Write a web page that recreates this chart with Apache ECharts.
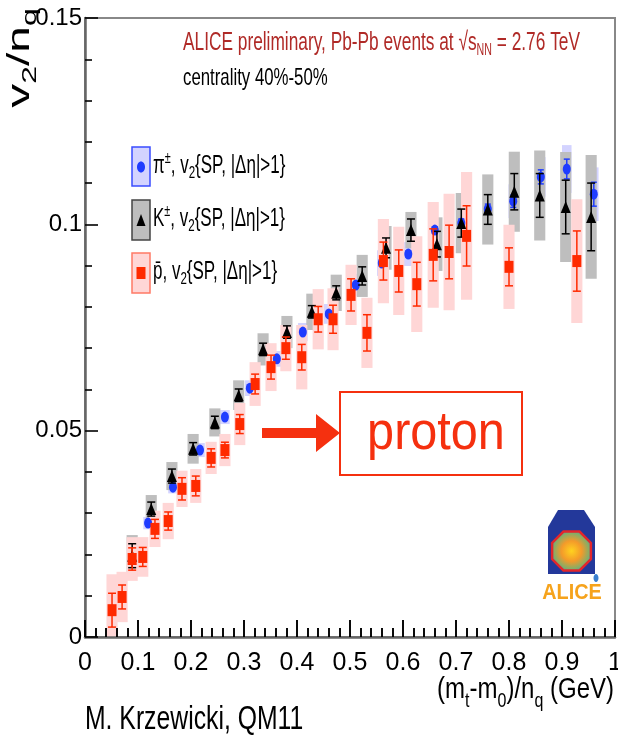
<!DOCTYPE html>
<html>
<head>
<meta charset="utf-8">
<script src="https://cdn.jsdelivr.net/npm/echarts@6/dist/echarts.min.js"></script>
<style>
  html, body { margin: 0; padding: 0; background: #fff; }
  #chart { width: 618px; height: 738px; }
</style>
</head>
<body>
<div id="chart"></div>
<script>
// v2/nq vs (mT-m0)/nq, 40-50%
const piX = [0.119, 0.166, 0.217, 0.264, 0.311, 0.362, 0.411, 0.460, 0.511, 0.560, 0.610, 0.660, 0.710, 0.760, 0.808, 0.860, 0.909, 0.960]
const piV2 = [0.0276, 0.0363, 0.0453, 0.0533, 0.0603, 0.0674, 0.0739, 0.0783, 0.0853, 0.0906, 0.0928, 0.0986, 0.1003, 0.1037, 0.1056, 0.1115, 0.1134, 0.1073]
const piStat = [0.0005, 0.0005, 0.0005, 0.0005, 0.0005, 0.0005, 0.0005, 0.0006, 0.0006, 0.0007, 0.0007, 0.0008, 0.0010, 0.0012, 0.0015, 0.0017, 0.0024, 0.0029]
const piSys = [0.0015, 0.0015, 0.0017, 0.0017, 0.0019, 0.0019, 0.0022, 0.0024, 0.0027, 0.0031, 0.0029, 0.0029, 0.0034, 0.0036, 0.0041, 0.0048, 0.0058, 0.0065]

const kX = [0.089, 0.125, 0.164, 0.204, 0.245, 0.290, 0.336, 0.381, 0.428, 0.474, 0.523, 0.568, 0.615, 0.664, 0.710, 0.760, 0.810, 0.858, 0.907, 0.955]
const kV2 = [0.0197, 0.0310, 0.0390, 0.0456, 0.0520, 0.0586, 0.0697, 0.0739, 0.0788, 0.0834, 0.0875, 0.0943, 0.0986, 0.0952, 0.1003, 0.1036, 0.1079, 0.1070, 0.1042, 0.1018]
const kStat = [0.0029, 0.0017, 0.0017, 0.0015, 0.0015, 0.0015, 0.0015, 0.0015, 0.0015, 0.0017, 0.0022, 0.0024, 0.0027, 0.0031, 0.0034, 0.0036, 0.0044, 0.0053, 0.0065, 0.0082]
const kSys = [0.0050, 0.0034, 0.0034, 0.0036, 0.0034, 0.0036, 0.0039, 0.0039, 0.0044, 0.0044, 0.0051, 0.0053, 0.0044, 0.0065, 0.0073, 0.0085, 0.0097, 0.0109, 0.0133, 0.0150]

const pX = [0.051, 0.070, 0.089, 0.109, 0.132, 0.157, 0.183, 0.209, 0.238, 0.264, 0.292, 0.321, 0.351, 0.379, 0.409, 0.440, 0.468, 0.502, 0.532, 0.563, 0.592, 0.626, 0.657, 0.687, 0.720, 0.800, 0.928]
const pV2 = [0.0065, 0.0097, 0.0189, 0.0194, 0.0262, 0.0281, 0.0359, 0.0366, 0.0434, 0.0453, 0.0516, 0.0613, 0.0654, 0.0700, 0.0678, 0.0770, 0.0770, 0.0829, 0.0737, 0.0911, 0.0887, 0.0855, 0.0926, 0.0933, 0.0972, 0.0897, 0.0911]
const pStat = [0.0041, 0.0029, 0.0027, 0.0023, 0.0023, 0.0022, 0.0027, 0.0024, 0.0022, 0.0019, 0.0023, 0.0024, 0.0029, 0.0027, 0.0031, 0.0031, 0.0034, 0.0039, 0.0044, 0.0046, 0.0051, 0.0053, 0.0063, 0.0065, 0.0073, 0.0046, 0.0073]
const pSys = [0.0087, 0.0061, 0.0053, 0.0048, 0.0044, 0.0044, 0.0044, 0.0041, 0.0039, 0.0039, 0.0051, 0.0053, 0.0058, 0.0056, 0.0078, 0.0073, 0.0075, 0.0073, 0.0085, 0.0102, 0.0107, 0.0116, 0.0128, 0.0141, 0.0155, 0.0102, 0.0150]

// axis ranges / tick steps
const xRange = [0, 1]
const xStep = 0.1
const yRange = [0, 0.15]
const yStep = 0.05

const FONT = "'Liberation Sans', Arial, sans-serif"
const RED = '#ff2a00'

function rows(xs, ys, st, sy) {
  return xs.map((x, i) => [x, ys[i], st[i], sy[i]])
}

// systematic box, clipped to the frame
function sysBox(halfW, fill) {
  return function (params, api) {
    const x = api.value(0), y = api.value(1), s = api.value(3)
    const a = api.coord([x - halfW, y + s])
    const b = api.coord([x + halfW, y - s])
    const shape = echarts.graphic.clipRectByRect(
      { x: a[0], y: a[1], width: b[0] - a[0], height: b[1] - a[1] },
      params.coordSys
    )
    if (!shape) return
    return { type: 'rect', shape: shape, style: { fill: fill } }
  }
}

// stat error bar with small caps
function statBar(color, cap) {
  return function (params, api) {
    const x = api.value(0), y = api.value(1), e = api.value(2)
    const hi = api.coord([x, y + e])
    const lo = api.coord([x, y - e])
    const st = { stroke: color, lineWidth: 1.5 }
    return {
      type: 'group',
      children: [
        { type: 'line', shape: { x1: hi[0], y1: hi[1], x2: lo[0], y2: lo[1] }, style: st },
        { type: 'line', shape: { x1: hi[0] - cap, y1: hi[1], x2: hi[0] + cap, y2: hi[1] }, style: st },
        { type: 'line', shape: { x1: lo[0] - cap, y1: lo[1], x2: lo[0] + cap, y2: lo[1] }, style: st }
      ]
    }
  }
}

// boxes all sit underneath; bars + markers on top, pi < K < pbar
function boxes(name, data, halfW, fill, z) {
  return {
    name: name + ' sys', type: 'custom', data: data, z: z, clip: true,
    encode: { x: 0, y: 1 }, renderItem: sysBox(halfW, fill), silent: true
  }
}
function points(name, data, opt, z) {
  return [
    {
      name: name + ' stat', type: 'custom', data: data, z: z, clip: true,
      encode: { x: 0, y: 1 }, renderItem: statBar(opt.bar, opt.cap), silent: true
    },
    {
      name: name, type: 'scatter', data: data.map(d => [d[0], d[1]]), z: z + 1,
      symbol: opt.symbol, symbolSize: opt.size, itemStyle: { color: opt.color, opacity: 1 }
    }
  ]
}

const piData = rows(piX, piV2, piStat, piSys)
const kData = rows(kX, kV2, kStat, kSys)
const pData = rows(pX, pV2, pStat, pSys)

const subTok = (fs, pad) => ({ fontFamily: FONT, fontSize: fs, lineHeight: fs, padding: [pad, 0, 0, 0] })
const supTok = (fs, pad) => ({ fontFamily: FONT, fontSize: fs, lineHeight: fs, padding: [0, 0, pad, 0] })

function legendText(y, text) {
  return {
    type: 'text', x: 153, y: y, scaleX: 0.68,
    style: {
      text: text, fontFamily: FONT, fontSize: 25, lineHeight: 25, fill: '#000',
      align: 'left', verticalAlign: 'middle',
      rich: { sub: subTok(17, 15), sup: supTok(16, 14) }
    }
  }
}

// ALICE logo octagon
function octagon(cx, cy, r) {
  const pts = []
  for (let k = 0; k < 8; k++) {
    const a = Math.PI / 8 + k * Math.PI / 4
    pts.push([cx + r * Math.cos(a), cy + r * Math.sin(a)])
  }
  return pts
}

const chart = echarts.init(document.getElementById('chart'))

const xTick = { show: true, inside: true, length: 17, lineStyle: { color: '#000', width: 1.6 } }
const xMinor = { show: true, splitNumber: 5, length: 9, lineStyle: { color: '#000', width: 1.6 } }

chart.setOption({
  animation: false,
  backgroundColor: '#fff',
  grid: {
    left: 85, right: 3, top: 18, bottom: 101, outerBoundsMode: 'none',
    show: true, borderColor: '#888', borderWidth: 2
  },
  xAxis: [
    {
      type: 'value', min: xRange[0], max: xRange[1], interval: xStep, z: 50,
      axisLine: { show: true, onZero: false, lineStyle: { color: '#666', width: 2.5 } },
      axisTick: xTick,
      minorTick: xMinor,
      splitLine: { show: false },
      axisLabel: { fontFamily: FONT, fontSize: 25, color: '#000', margin: 14 }
    },
    {
      // tick-only twin on the same bottom edge
      type: 'value', position: 'bottom', min: xRange[0], max: xRange[1], interval: xStep, z: 50,
      axisLine: { show: false, onZero: false },
      axisTick: xTick,
      minorTick: xMinor,
      splitLine: { show: false },
      axisLabel: { show: false }
    }
  ],
  yAxis: {
    type: 'value', min: yRange[0], max: yRange[1], interval: yStep, z: 50,
    axisLine: { show: true, onZero: false, lineStyle: { color: '#666', width: 2.5 } },
    axisTick: { show: true, inside: true, length: 13, lineStyle: { color: '#000', width: 1.6 } },
    minorTick: { show: true, splitNumber: 5, length: 7, lineStyle: { color: '#000', width: 1.6 } },
    splitLine: { show: false },
    axisLabel: { fontFamily: FONT, fontSize: 24, color: '#000', margin: 3 }
  },
  series: [
    boxes('pi', piData, 0.009, '#d3d3ff', 2),
    boxes('K', kData, 0.0105, '#bebebe', 3),
    boxes('pbar', pData, 0.0105, '#ffd6d6', 4),
    ...points('pi', piData, { bar: '#1f3cff', cap: 3, symbol: 'circle', size: [8, 11], color: '#1f3cff' }, 5),
    ...points('K', kData, { bar: '#000', cap: 4, symbol: 'triangle', size: [10, 12], color: '#000' }, 7),
    ...points('pbar', pData, { bar: RED, cap: 4, symbol: 'rect', size: [9, 12], color: RED }, 9)
  ],
  graphic: [
    // y title, rotated
    {
      type: 'text', x: 20, y: 58, rotation: Math.PI / 2, scaleY: 0.66,
      style: {
        text: 'v{sub|2}/n{sub|q}', fontFamily: FONT, fontSize: 48, lineHeight: 48, fill: '#000',
        align: 'center', verticalAlign: 'middle',
        rich: { sub: subTok(32, 30) }
      }
    },
    // x title
    {
      type: 'text', x: 614, y: 690, scaleX: 0.8,
      style: {
        text: '(m{sub|t}-m{sub|0})/n{sub|q} (GeV)', fontFamily: FONT, fontSize: 30, lineHeight: 30, fill: '#000',
        align: 'right', verticalAlign: 'middle',
        rich: { sub: subTok(20, 22) }
      }
    },
    // header
    {
      type: 'text', x: 183, y: 43, scaleX: 0.665,
      style: {
        text: 'ALICE preliminary, Pb-Pb events at √s{sub|NN} = 2.76 TeV', fontFamily: FONT, fontSize: 26, lineHeight: 26,
        fill: '#b02a27', align: 'left', verticalAlign: 'middle',
        rich: { sub: Object.assign(subTok(16, 16), { fill: '#b02a27' }) }
      }
    },
    {
      type: 'text', x: 183, y: 78, scaleX: 0.7,
      style: { text: 'centrality 40%-50%', fontFamily: FONT, fontSize: 24, fill: '#000', align: 'left', verticalAlign: 'middle' }
    },
    // legend
    { type: 'rect', shape: { x: 132, y: 147, width: 18, height: 39 }, style: { fill: '#d3d3ff', stroke: '#3a4cff', lineWidth: 1.5 } },
    { type: 'ellipse', shape: { cx: 141, cy: 167, rx: 4, ry: 5.5 }, style: { fill: '#1f3cff' } },
    legendText(166, 'π{sup|±}, v{sub|2}{SP, |Δη|>1}'),
    { type: 'rect', shape: { x: 132, y: 200, width: 18, height: 40 }, style: { fill: '#bebebe', stroke: '#444', lineWidth: 1.5 } },
    { type: 'polygon', shape: { points: [[141, 214], [136.5, 226], [145.5, 226]] }, style: { fill: '#000' } },
    legendText(219, 'K{sup|±}, v{sub|2}{SP, |Δη|>1}'),
    { type: 'rect', shape: { x: 132, y: 253, width: 18, height: 40 }, style: { fill: '#ffd6d6', stroke: '#ff7a66', lineWidth: 1.5 } },
    { type: 'rect', shape: { x: 136.5, y: 267, width: 9, height: 12 }, style: { fill: RED } },
    legendText(272, 'p\u0304, v{sub|2}{SP, |Δη|>1}'),
    // arrow + proton box
    {
      type: 'polygon',
      shape: { points: [[262, 428], [316, 428], [316, 414], [340, 433], [316, 452], [316, 438], [262, 438]] },
      style: { fill: '#f5300f' }
    },
    { type: 'rect', shape: { x: 340, y: 392, width: 182, height: 83 }, style: { fill: '#fff', stroke: '#f5300f', lineWidth: 2 } },
    {
      type: 'text', x: 436, y: 434, scaleX: 0.9,
      style: { text: 'proton', fontFamily: FONT, fontSize: 54, fill: '#f5300f', align: 'center', verticalAlign: 'middle' }
    },
    // ALICE logo
    {
      type: 'polygon',
      shape: { points: [[558, 510], [584, 510], [595, 527], [595, 574], [548, 574], [548, 527]] },
      style: { fill: '#23389a' }
    },
    {
      type: 'polygon', shape: { points: octagon(571.5, 551, 21) },
      style: {
        stroke: '#e3262b', lineWidth: 2.5,
        fill: new echarts.graphic.RadialGradient(0.5, 0.5, 0.55, [
          { offset: 0, color: '#ffd21f' },
          { offset: 0.45, color: '#f39a2a' },
          { offset: 0.8, color: '#7fae6a' },
          { offset: 1, color: '#4a78c8' }
        ])
      }
    },
    { type: 'ellipse', shape: { cx: 596, cy: 578, rx: 2.5, ry: 4 }, style: { fill: '#3a7fd0' } },
    {
      type: 'text', x: 572, y: 593, scaleX: 0.9,
      style: { text: 'ALICE', fontFamily: FONT, fontWeight: 'bold', fontSize: 22, fill: '#f6a31c', align: 'center', verticalAlign: 'middle' }
    },
    // credit
    {
      type: 'text', x: 85, y: 720, scaleX: 0.75,
      style: { text: 'M. Krzewicki, QM11', fontFamily: FONT, fontSize: 33, fill: '#000', align: 'left', verticalAlign: 'middle' }
    }
  ]
})
</script>
</body>
</html>
